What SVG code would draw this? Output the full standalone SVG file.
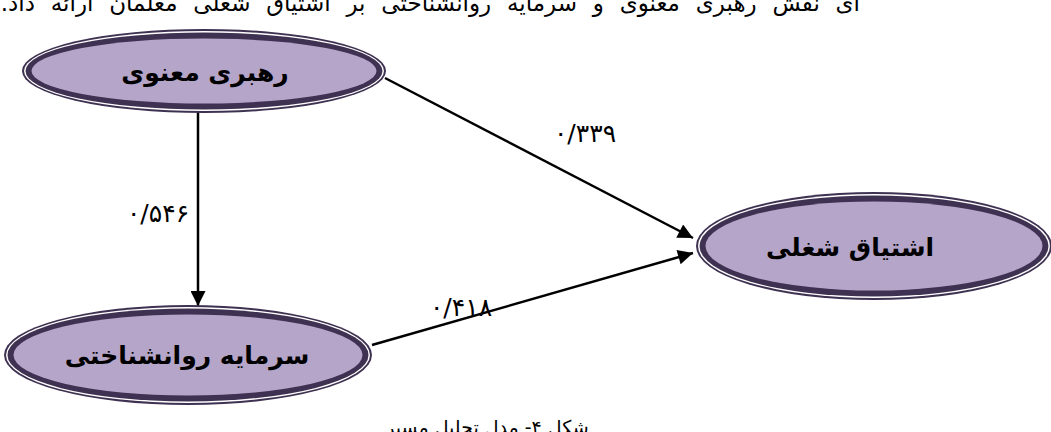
<svg xmlns="http://www.w3.org/2000/svg" width="1051" height="432" viewBox="0 0 1051 432">
  <defs>
    <style>
      .body { font-family: "DejaVu Sans", "Noto Sans", sans-serif; fill: #000; }
      .node-label { font-family: "DejaVu Sans", sans-serif; font-weight: bold; font-size: 25px; fill: #000; text-anchor: middle; }
      .coef { font-family: "DejaVu Sans", sans-serif; font-size: 25px; fill: #000; text-anchor: middle; }
      .edge { stroke: #000; stroke-width: 2.5; fill: none; marker-end: url(#arrow); }
      .rim { fill: #3F3151; }
      .gap { fill: #FFFFFF; }
      .face { fill: #B5A5C9; }
    </style>
    <marker id="arrow" viewBox="0 0 10 10" refX="10" refY="5" markerWidth="7" markerHeight="6" orient="auto" markerUnits="strokeWidth">
      <path d="M0,0 L10,5 L0,10 Z" fill="#000"/>
    </marker>
  </defs>

  <!-- running text above the figure -->
  <text class="body" x="860" y="11" font-size="23" word-spacing="8.5" direction="rtl" text-anchor="start">ای نقش رهبری معنوی و سرمایه روانشناختی بر اشتیاق شغلی معلمان ارائه داد.</text>

  <!-- connectors -->
  <g id="connectors">
    <line class="edge" x1="198" y1="111" x2="198" y2="306"/>
    <line class="edge" x1="385" y1="78" x2="693" y2="238"/>
    <line class="edge" x1="372" y1="345" x2="693" y2="253"/>
    <text class="coef" x="158" y="222">۰/۵۴۶</text>
    <text class="coef" x="585" y="142">۰/۳۳۹</text>
    <text class="coef" x="461" y="316">۰/۴۱۸</text>
  </g>

  <!-- spiritual leadership -->
  <g id="node-leadership">
    <ellipse class="rim" cx="204" cy="71" rx="182" ry="42"/>
    <ellipse class="gap" cx="204" cy="71" rx="180" ry="40"/>
    <ellipse class="rim" cx="204" cy="71" rx="178.5" ry="38.5"/>
    <ellipse class="face" cx="204" cy="71" rx="172.5" ry="32.5"/>
    <text class="node-label" x="205" y="81">رهبری معنوی</text>
  </g>

  <!-- psychological capital -->
  <g id="node-capital">
    <ellipse class="rim" cx="188" cy="355" rx="184" ry="50"/>
    <ellipse class="gap" cx="188" cy="355" rx="182" ry="48"/>
    <ellipse class="rim" cx="188" cy="355" rx="180.5" ry="46.5"/>
    <ellipse class="face" cx="188" cy="355" rx="174.5" ry="40.5"/>
    <text class="node-label" x="187" y="364" font-size="22">سرمایه روانشناختی</text>
  </g>

  <!-- work engagement -->
  <g id="node-engagement">
    <ellipse class="rim" cx="874" cy="246" rx="178" ry="54"/>
    <ellipse class="gap" cx="874" cy="246" rx="176" ry="52"/>
    <ellipse class="rim" cx="874" cy="246" rx="174.5" ry="50.5"/>
    <ellipse class="face" cx="874" cy="246" rx="168.5" ry="44.5"/>
    <text class="node-label" x="850" y="256">اشتیاق شغلی</text>
  </g>

  <!-- figure caption -->
  <text class="body" x="487" y="434" font-size="19" text-anchor="middle">شکل ۴- مدل تحلیل مسیر</text>
</svg>
